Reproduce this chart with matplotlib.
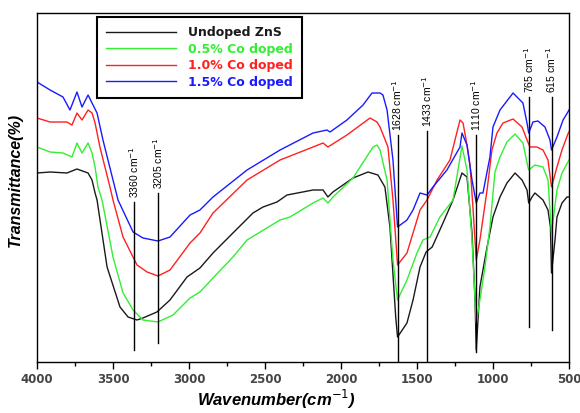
import numpy as np
import matplotlib
matplotlib.use("Agg")
import matplotlib.pyplot as plt

# FTIR spectra, transmittance in arbitrary units
wn_undoped = [4000, 3914, 3803, 3737, 3664, 3638, 3618, 3605, 3539, 3454, 3401, 3342, 3303,
              3211, 3125, 3013, 2928, 2842, 2711, 2579, 2513, 2421, 2355, 2184, 2118, 2086,
              2053, 1921, 1822, 1757, 1711, 1678, 1640, 1628, 1566, 1526, 1480, 1440, 1400,
              1329, 1263, 1204, 1171, 1138, 1118, 1110, 1086, 1039, 1000, 954, 908, 855,
              809, 776, 765, 743, 724, 671, 638, 622, 615, 592, 579, 546, 513, 500]
t_undoped = [189, 190, 189, 193, 189, 182, 169, 162, 95, 55, 45, 42, 44,
             50, 62, 85, 94, 109, 129, 149, 155, 160, 167, 172, 172, 165,
             170, 184, 190, 187, 175, 135, 45, 25, 39, 62, 95, 110, 115,
             139, 162, 189, 185, 129, 62, 12, 75, 115, 145, 165, 179, 189,
             182, 172, 159, 165, 169, 162, 152, 135, 89, 122, 145, 159, 165, 165]

wn_co05 = [4000, 3914, 3829, 3770, 3737, 3704, 3664, 3638, 3618, 3599, 3572, 3500, 3434,
           3368, 3303, 3204, 3105, 2993, 2928, 2842, 2711, 2618, 2401, 2336, 2184, 2118,
           2086, 2053, 1921, 1789, 1763, 1743, 1697, 1658, 1628, 1566, 1500, 1461, 1414,
           1349, 1263, 1204, 1171, 1138, 1110, 1086, 1053, 1020, 987, 954, 908, 855,
           803, 770, 765, 724, 671, 638, 615, 579, 546, 507, 500]
t_co05 = [215, 210, 209, 205, 219, 209, 219, 209, 195, 175, 162, 105, 69,
          52, 42, 40, 47, 64, 70, 84, 105, 122, 142, 145, 159, 164,
          159, 165, 184, 215, 217, 212, 182, 102, 62, 82, 109, 122, 125,
          145, 162, 216, 192, 122, 39, 62, 95, 135, 190, 205, 220, 228,
          219, 195, 192, 197, 195, 182, 129, 172, 189, 200, 202]

wn_co10 = [4000, 3914, 3803, 3770, 3737, 3704, 3664, 3638, 3618, 3586, 3520, 3500, 3434,
           3342, 3276, 3204, 3125, 2993, 2928, 2842, 2618, 2401, 2184, 2118, 2086, 1961,
           1809, 1763, 1743, 1691, 1658, 1628, 1566, 1526, 1480, 1434, 1368, 1283, 1217,
           1197, 1171, 1151, 1132, 1110, 1086, 1039, 1007, 974, 934, 868, 809, 776,
           757, 711, 671, 638, 615, 579, 546, 507, 500]
t_co10 = [244, 240, 240, 237, 249, 242, 252, 249, 239, 215, 175, 162, 125,
          97, 90, 86, 92, 119, 129, 149, 182, 202, 215, 219, 215, 227,
          244, 240, 235, 215, 162, 97, 109, 129, 152, 162, 182, 202, 242,
          239, 217, 197, 155, 102, 122, 172, 212, 229, 239, 243, 235, 222,
          215, 215, 212, 202, 175, 195, 212, 228, 230]

wn_co15 = [4000, 3914, 3829, 3783, 3737, 3704, 3664, 3638, 3605, 3566, 3500, 3467, 3368,
           3303, 3204, 3125, 2993, 2928, 2842, 2618, 2401, 2184, 2092, 2072, 1961, 1855,
           1796, 1743, 1724, 1697, 1658, 1628, 1566, 1526, 1480, 1434, 1395, 1303, 1217,
           1204, 1171, 1138, 1110, 1086, 1066, 1020, 1000, 954, 868, 803, 776, 765,
           737, 704, 658, 625, 615, 579, 539, 507, 500]
t_co15 = [280, 272, 265, 252, 270, 255, 267, 259, 249, 222, 182, 162, 130,
          124, 121, 125, 147, 152, 165, 192, 212, 229, 232, 230, 242, 257,
          269, 269, 267, 252, 202, 135, 142, 152, 169, 167, 175, 192, 215,
          229, 217, 182, 159, 169, 169, 205, 235, 252, 269, 259, 239, 229,
          240, 241, 235, 222, 212, 225, 242, 250, 252]

labels = ["Undoped ZnS", "0.5% Co doped", "1.0% Co doped", "1.5% Co doped"]
colors = ["#1a1a1a", "#33ee33", "#ff2020", "#1a1aff"]

# band markers: position, line bottom, line top
peaks = [3360, 3205, 1628, 1433, 1110, 765, 615]
peak_lo = [12, 19, 0, 0, 10, 35, 32]
peak_hi = [160, 169, 227, 231, 227, 265, 265]

fig = plt.figure(figsize=(5.8, 4.13), dpi=100)
ax = fig.add_axes([0.0638, 0.1235, 0.9172, 0.845])

series = [(wn_undoped, t_undoped), (wn_co05, t_co05), (wn_co10, t_co10), (wn_co15, t_co15)]
for (w, t), lab, c in zip(series, labels, colors):
    ax.plot(w, t, color=c, lw=1.0, label=lab)

for p, lo, hi in zip(peaks, peak_lo, peak_hi):
    ax.plot([p, p], [lo, hi], color="black", lw=1.0)
    ax.text(p, hi + 4, "%d cm$^{-1}$" % p, rotation=90, ha="center", va="bottom",
            fontsize=7.5, family="Liberation Sans")

ax.set_xlim(4000, 500)
ax.set_ylim(0, 349)
ax.set_xticks(np.arange(4000, 499, -500))
ax.set_xticks(np.arange(3750, 500, -500), minor=True)
ax.set_yticks([])
ax.tick_params(axis="x", which="major", direction="out", length=5, width=1,
               labelsize=8.5, labelcolor="#444444", pad=3)
ax.tick_params(axis="x", which="minor", direction="out", length=3, width=1)
for lbl in ax.get_xticklabels():
    lbl.set_fontweight("bold")
for s in ax.spines.values():
    s.set_linewidth(1.0)

fig.text(0.476, 0.032, "Wavenumber(cm$^{-1}$)", ha="center", va="center",
         fontsize=12, fontweight="bold", fontstyle="italic", family="Liberation Sans")
fig.text(0.026, 0.565, "Transmittance(%)", rotation=90, ha="center", va="center",
         fontsize=11.5, fontweight="bold", fontstyle="italic", family="Liberation Sans")

leg = ax.legend(loc="upper left", bbox_to_anchor=(0.113, 0.989), borderaxespad=0,
                fancybox=False, framealpha=1, edgecolor="black", handlelength=5.6,
                handletextpad=0.9, labelspacing=0.28, borderpad=0.75,
                prop={"family": "DejaVu Sans", "weight": "bold", "size": 9})
leg.get_frame().set_linewidth(1.5)
for txt, c in zip(leg.get_texts(), colors):
    txt.set_color(c)

fig.savefig("out.png", dpi=100)
